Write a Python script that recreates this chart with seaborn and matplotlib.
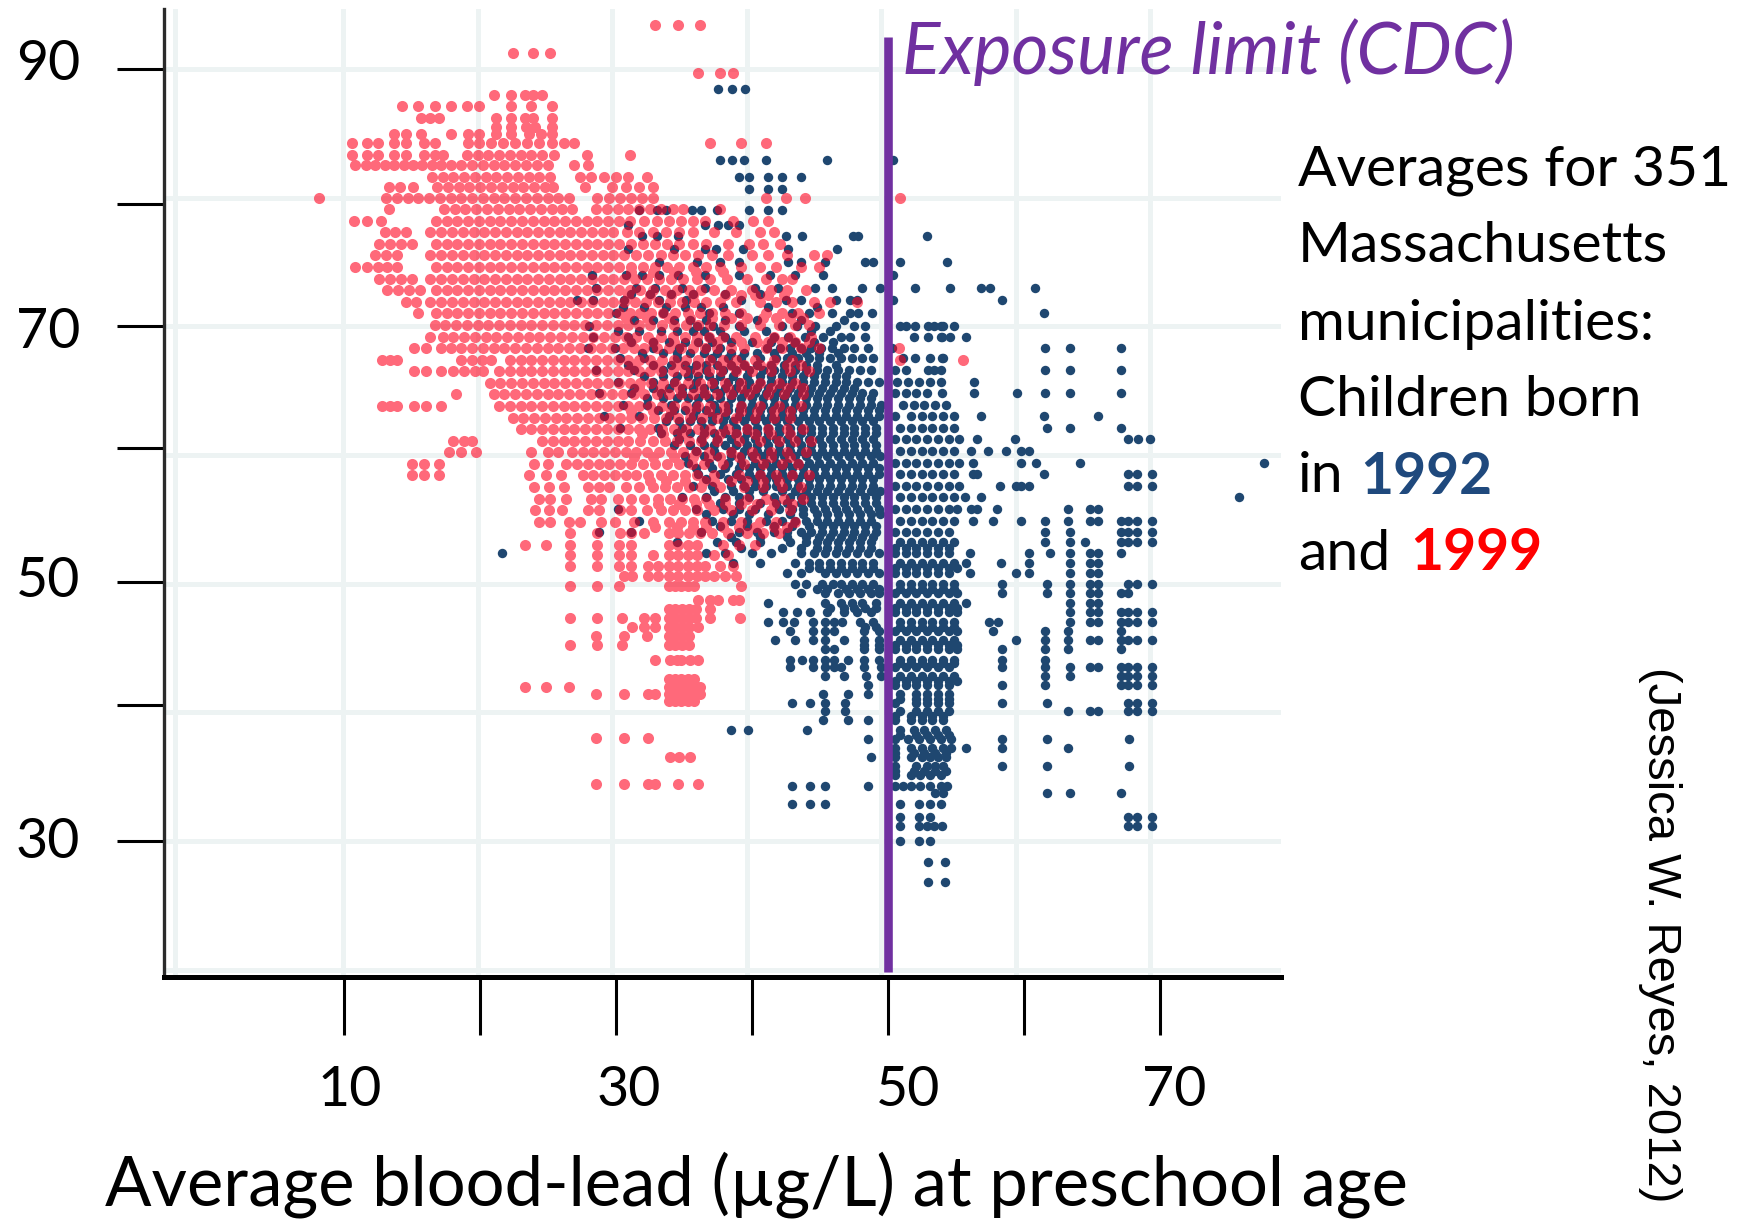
import pandas as pd
import matplotlib
matplotlib.use('Agg')
import matplotlib.pyplot as plt
import seaborn as sns

# values: one row per blood-test score level
red_y = [93.4, 91.2, 89.7, 88.0, 87.1, 86.2, 85.5, 84.9, 84.2, 83.3, 82.5, 81.6, 80.8, 80.0, 79.1, 78.2, 77.3, 76.4,
         75.5, 74.6, 73.7, 72.8, 71.9, 71.0, 70.1, 69.2, 68.3, 67.4, 66.5, 65.6, 64.7, 63.8, 62.9, 62.0, 61.1, 60.2,
         59.3, 58.4, 57.5, 56.6, 55.7, 54.8, 53.9, 53.0, 52.2, 51.4, 50.6, 49.8, 48.7, 48.0, 47.3, 46.6, 45.9, 45.2,
         44.1, 42.6, 42.0, 41.4, 40.9, 38.0, 36.5, 34.4]
red_x = [
    [33.2, 34.9, 36.5],
    [22.6, 24.1, 25.4],
    [36.4, 38.0, 39.0],
    [21.2, 22.5, 23.5, 24.1, 24.8],
    [14.4, 15.6, 16.8, 18.0, 19.2, 20.1, 22.5, 24.0, 25.5],
    [15.8, 16.5, 17.1, 21.4, 22.5, 23.5, 24.1, 25.5],
    [21.4, 22.5, 23.6, 24.3, 25.5],
    [13.8, 14.7, 15.8, 18.0, 19.3, 20.1, 21.4, 22.5, 23.8, 24.7, 25.5],
    [10.7, 11.8, 12.6, 13.8, 14.7, 16.0, 16.8, 19.3, 20.1, 21.0, 21.9, 22.8, 23.7, 24.6, 25.5, 26.4, 27.2, 37.3, 39.6, 41.4],
    [10.7, 11.8, 12.6, 13.8, 14.7, 16.0, 16.8, 17.4, 19.2, 20.0, 20.8, 21.6, 22.4, 23.2, 24.0, 24.8, 25.7, 28.1, 31.3],
    [10.9, 11.7, 12.4, 13.1, 13.8, 14.5, 15.2, 15.9, 16.6, 17.3, 18.0, 18.8, 19.6, 20.4, 21.2, 22.0, 22.8, 23.6, 24.4, 25.2, 27.2, 28.2],
    [16.6, 17.4, 18.2, 19.0, 19.8, 20.6, 21.4, 22.2, 23.0, 23.8, 24.6, 25.4, 27.6, 28.4, 29.4, 30.3, 31.2, 32.6],
    [13.4, 14.2, 15.2, 17.0, 17.8, 18.6, 19.4, 20.2, 21.0, 21.8, 22.6, 23.4, 24.2, 25.0, 25.6, 28.0, 30.0, 31.0, 32.0, 33.0],
    [8.2, 13.2, 14.0, 14.8, 15.6, 16.4, 17.2, 18.0, 18.8, 19.6, 20.4, 21.2, 22.0, 22.8, 23.6, 24.4, 25.2, 26.0, 26.8, 28.9, 29.8, 30.6, 31.4, 32.2, 33.0, 41.4, 42.9, 44.3, 51.4],
    [13.4, 17.5, 18.3, 19.1, 19.9, 20.7, 21.5, 22.3, 23.1, 23.9, 24.7, 25.5, 26.3, 27.0, 28.8, 29.6, 30.4, 31.2, 32.0, 32.8, 33.6, 34.5, 35.3, 38.0],
    [10.8, 11.8, 12.8, 16.9, 17.7, 18.5, 19.3, 20.1, 20.9, 21.7, 22.5, 23.3, 24.1, 24.9, 25.7, 26.5, 27.3, 28.1, 28.9, 29.7, 30.5, 31.3, 32.4, 33.3, 34.2, 35.1, 36.0, 36.9, 39.0, 40.5, 41.6],
    [13.1, 13.9, 14.7, 16.5, 17.3, 18.1, 18.9, 19.7, 20.5, 21.3, 22.1, 22.9, 23.7, 24.5, 25.3, 26.1, 26.9, 27.7, 28.5, 29.3, 30.1, 31.1, 32.0, 33.0, 34.0, 35.0, 36.0, 37.6, 39.2, 41.0, 42.0],
    [12.7, 13.5, 14.3, 15.1, 16.9, 17.7, 18.5, 19.3, 20.1, 20.9, 21.7, 22.5, 23.3, 24.1, 24.9, 25.7, 26.5, 27.3, 28.1, 28.9, 29.7, 30.5, 31.4, 32.3, 33.2, 34.1, 35.0, 36.0, 37.0, 38.6, 40.2, 41.2, 42.5],
    [12.4, 13.2, 14.0, 16.5, 17.3, 18.1, 18.9, 19.7, 20.5, 21.3, 22.1, 22.9, 23.7, 24.5, 25.3, 26.1, 26.9, 27.7, 28.5, 29.3, 30.1, 30.9, 31.8, 32.7, 33.6, 34.5, 35.4, 36.4, 37.4, 38.6, 40.4, 41.6, 43.0, 45.0, 46.0],
    [10.9, 11.8, 12.6, 13.3, 14.0, 16.9, 17.7, 18.5, 19.3, 20.1, 20.9, 21.7, 22.5, 23.3, 24.1, 24.9, 25.7, 26.5, 27.3, 28.1, 28.9, 29.7, 30.5, 31.4, 32.3, 33.2, 34.1, 35.0, 36.0, 37.0, 38.0, 39.6, 41.0, 42.2, 44.0, 45.4],
    [12.7, 13.5, 14.3, 15.1, 16.5, 17.3, 18.1, 18.9, 19.7, 20.5, 21.3, 22.1, 22.9, 23.7, 24.5, 25.3, 26.1, 26.9, 27.7, 28.5, 29.3, 30.1, 30.9, 31.7, 32.6, 33.5, 34.4, 35.3, 36.3, 37.3, 38.5, 40.0, 41.4, 42.6, 43.4],
    [13.3, 14.1, 14.9, 15.7, 16.9, 17.7, 18.5, 19.3, 20.1, 20.9, 21.7, 22.5, 23.3, 24.1, 24.9, 25.7, 26.5, 27.3, 28.1, 28.9, 29.7, 30.5, 31.3, 32.1, 33.0, 33.9, 34.8, 35.7, 36.6, 37.6, 38.8, 40.4, 41.8, 43.0, 44.4],
    [14.7, 15.4, 16.5, 17.3, 18.1, 18.9, 19.7, 20.5, 21.3, 22.1, 22.9, 23.7, 24.5, 25.3, 26.1, 26.9, 27.7, 28.5, 29.3, 30.1, 30.9, 31.7, 32.5, 33.4, 34.3, 35.2, 36.1, 37.0, 38.0, 39.2, 41.0, 42.2, 43.4, 45.0, 46.2, 48.2],
    [15.6, 16.9, 17.7, 18.5, 19.3, 20.1, 20.9, 21.7, 22.5, 23.3, 24.1, 24.9, 25.7, 26.5, 27.3, 28.1, 28.9, 29.7, 30.5, 31.3, 32.1, 32.9, 33.8, 34.7, 35.6, 36.5, 37.4, 38.4, 39.6, 41.4, 42.6, 43.8, 45.4],
    [16.8, 17.6, 18.4, 19.2, 20.0, 20.8, 21.6, 22.4, 23.2, 24.0, 24.8, 25.6, 26.4, 27.2, 28.0, 28.8, 29.6, 30.4, 31.2, 32.0, 32.8, 33.7, 34.6, 35.5, 36.4, 37.3, 38.3, 39.6, 41.0, 42.4, 43.6, 44.6],
    [16.5, 17.4, 18.2, 19.0, 19.8, 20.6, 21.4, 22.2, 23.0, 23.8, 24.6, 25.4, 26.2, 27.0, 27.8, 28.6, 29.4, 30.2, 31.0, 31.8, 32.7, 33.6, 34.5, 35.4, 36.3, 37.2, 38.2, 39.2, 40.6, 42.0, 43.2, 44.8],
    [15.3, 16.2, 17.3, 18.0, 18.8, 19.6, 20.4, 21.2, 22.0, 22.8, 23.6, 24.4, 25.2, 26.0, 26.8, 27.6, 28.4, 29.2, 30.0, 30.8, 31.6, 32.4, 33.3, 34.2, 35.1, 36.0, 36.9, 37.8, 38.8, 39.8, 41.4, 42.6, 44.0, 45.4, 51.3],
    [12.9, 13.5, 14.0, 18.8, 19.6, 20.3, 21.0, 22.4, 23.2, 24.0, 24.8, 25.6, 26.4, 27.2, 28.0, 28.8, 29.6, 30.4, 31.2, 32.0, 32.8, 33.7, 34.6, 35.5, 36.4, 37.3, 38.2, 39.2, 40.6, 42.0, 43.4, 51.4, 56.1],
    [15.3, 16.2, 17.3, 18.2, 19.0, 19.8, 20.4, 21.6, 22.4, 23.2, 24.0, 24.8, 25.6, 26.4, 27.2, 28.0, 28.8, 29.6, 30.4, 31.2, 32.0, 32.8, 33.6, 34.5, 35.4, 36.3, 37.2, 38.1, 39.2, 40.4, 41.8, 43.2, 44.6],
    [20.9, 21.7, 22.5, 23.3, 24.1, 24.9, 25.7, 26.5, 27.3, 28.1, 28.9, 29.7, 30.5, 31.3, 32.1, 32.9, 33.8, 34.7, 35.6, 36.5, 37.4, 38.4, 39.6, 41.0, 42.4, 43.6],
    [18.4, 21.2, 22.0, 22.8, 23.6, 24.4, 25.2, 26.0, 26.8, 27.6, 28.4, 29.2, 30.0, 30.8, 31.6, 32.4, 33.3, 34.2, 35.1, 36.0, 36.9, 37.8, 38.8, 40.2, 41.6, 42.8, 44.2],
    [12.9, 13.5, 14.0, 15.3, 16.2, 17.3, 21.6, 22.4, 23.2, 24.0, 24.8, 25.6, 26.4, 27.2, 28.0, 28.8, 29.6, 30.4, 31.2, 32.0, 32.8, 33.7, 34.6, 35.5, 36.4, 37.3, 38.3, 39.6, 41.0, 42.4, 44.0],
    [22.6, 23.4, 24.2, 25.0, 25.8, 26.6, 27.4, 28.2, 29.0, 29.8, 30.6, 31.4, 32.2, 33.1, 34.0, 34.9, 35.8, 36.7, 37.8, 39.2, 40.6, 42.0, 43.2],
    [23.2, 24.0, 24.8, 25.6, 26.4, 27.2, 28.0, 28.8, 29.6, 30.4, 31.2, 32.0, 32.8, 33.7, 34.6, 35.5, 36.4, 37.3, 38.6, 40.0, 41.6, 43.0, 44.2],
    [18.2, 19.0, 19.6, 24.8, 25.6, 26.4, 27.2, 28.0, 28.8, 29.6, 30.4, 31.2, 32.1, 33.0, 33.9, 34.8, 35.7, 36.6, 37.8, 39.4, 41.0, 42.4, 43.6, 44.8],
    [17.9, 18.8, 19.9, 24.0, 25.2, 26.0, 27.0, 27.8, 28.6, 29.4, 30.2, 31.0, 31.8, 32.6, 33.5, 34.4, 35.3, 36.2, 37.2, 38.8, 40.4, 41.8, 43.0, 44.4],
    [15.1, 16.0, 17.1, 24.2, 25.2, 26.6, 27.4, 28.2, 29.0, 29.8, 30.6, 31.4, 32.3, 33.2, 34.1, 35.0, 35.9, 36.8, 38.2, 39.8, 41.2, 42.6, 43.8],
    [15.1, 16.0, 17.1, 23.8, 25.1, 26.2, 27.8, 28.6, 29.4, 30.2, 31.0, 31.8, 32.7, 33.6, 34.5, 35.4, 36.3, 37.6, 39.4, 41.0, 42.2, 43.4, 44.6],
    [24.2, 25.3, 26.4, 28.2, 29.0, 29.8, 31.0, 32.0, 33.0, 33.9, 34.8, 35.7, 36.6, 38.0, 39.8, 41.2, 42.6, 44.0],
    [24.6, 25.4, 26.6, 28.4, 29.2, 30.4, 31.4, 32.4, 33.4, 34.3, 35.2, 36.1, 37.0, 38.4, 40.0, 41.4, 42.8, 44.2],
    [24.3, 25.3, 26.3, 28.2, 29.0, 30.6, 31.4, 32.6, 33.6, 34.5, 35.4, 36.3, 37.6, 38.8, 40.4, 41.8, 43.2],
    [24.6, 25.4, 26.8, 27.6, 29.2, 30.2, 31.6, 33.0, 34.2, 35.1, 36.0, 36.9, 38.2, 39.6, 41.0, 42.2, 43.6],
    [26.9, 28.9, 30.6, 31.4, 32.4, 34.2, 34.9, 35.7, 36.5, 37.4, 38.6, 40.0, 41.2, 42.4],
    [23.5, 25.1, 26.9, 28.9, 30.5, 31.4, 34.2, 34.9, 35.6, 36.3, 38.2, 39.4, 40.6],
    [26.9, 28.9, 30.5, 31.4, 33.0, 34.2, 34.9, 35.6, 36.3, 37.6, 38.6],
    [26.9, 28.9, 30.5, 31.4, 32.7, 33.4, 34.2, 34.9, 35.6, 36.3, 36.9, 38.0, 39.0],
    [30.9, 31.5, 32.7, 33.4, 34.2, 34.9, 35.6, 36.3, 36.9, 37.6, 38.4, 39.2],
    [26.9, 28.9, 30.5, 34.2, 34.7, 35.1, 35.6, 36.1, 39.6],
    [36.4, 37.3, 37.9, 39.0, 39.4],
    [34.2, 34.7, 35.2, 35.7, 36.2, 37.3],
    [26.9, 28.9, 30.7, 32.4, 33.2, 34.2, 34.7, 35.2, 35.7, 36.2, 37.3, 39.5],
    [31.5, 32.4, 33.2, 34.2, 34.7, 35.2, 35.7, 36.4],
    [28.8, 30.9, 32.6, 34.2, 34.7, 35.2, 35.7],
    [26.9, 28.9, 30.7, 34.2, 34.7, 35.2, 35.7],
    [33.2, 34.3, 34.8, 35.1, 35.8, 36.4],
    [34.2, 34.7, 35.1, 35.6, 36.1],
    [23.5, 25.1, 26.8, 34.2, 34.7, 35.1, 35.6, 36.1, 36.5],
    [28.8, 30.9, 32.7, 33.2, 34.2, 34.7, 35.1, 35.6, 36.1, 36.5],
    [34.2, 34.7, 35.1, 35.6, 36.1],
    [28.8, 30.9, 32.7],
    [34.3, 35.0, 35.8],
    [28.8, 30.9, 32.7, 33.2, 34.9, 36.4],
]

# second pass of 1999 rows, the overlap area where red is nearly solid
red_dense_y = [74.2, 72.4, 70.6, 68.8, 67.0, 65.2, 63.4, 61.6, 59.8, 58.0, 56.2, 54.4]
red_dense_x = [
    [31.4, 33.0, 34.6, 36.2, 38.2],
    [31.2, 32.8, 34.4, 36.0, 38.4, 39.6, 40.6, 41.6, 42.8],
    [31.0, 32.6, 34.2, 35.8, 37.4, 38.8, 40.0, 41.2, 42.2, 43.2, 44.2],
    [31.4, 33.0, 34.6, 36.2, 37.8, 39.6, 40.8, 41.6, 42.6, 43.6, 44.6],
    [31.6, 33.2, 34.8, 36.4, 38.0, 38.8, 39.8, 41.0, 41.8, 43.0, 44.0],
    [32.0, 33.6, 35.0, 36.6, 38.6, 39.6, 40.6, 41.8, 43.0, 44.2],
    [31.4, 33.0, 34.4, 35.8, 37.2, 38.4, 39.6, 40.8, 42.0, 43.2],
    [32.2, 33.8, 35.2, 36.8, 38.0, 39.2, 40.6, 41.8, 43.2],
    [31.6, 33.0, 34.6, 36.0, 37.2, 38.0, 39.4, 40.6, 41.8, 43.2],
    [32.8, 34.0, 35.4, 36.8, 37.6, 38.8, 40.0, 41.2, 42.4],
    [33.4, 35.0, 36.2, 37.2, 38.4, 39.6, 40.8, 42.0, 43.4],
    [33.2, 34.8, 36.0, 37.0, 38.2, 39.4, 40.6, 42.0, 43.0],
]

blue_y = [88.4, 82.9, 81.6, 80.7, 79.0, 77.9, 77.0, 76.0, 75.0, 74.0, 73.0, 72.0, 71.0, 70.0, 69.2, 68.3, 67.5, 66.6, 65.7,
          64.8, 63.9, 63.0, 62.1, 61.2, 60.3, 59.4, 58.5, 57.6, 56.7, 55.8, 54.9, 54.0, 53.2, 52.4, 51.6, 50.8, 50.0, 49.3,
          48.5, 47.8, 47.0, 46.3, 45.6, 44.9, 44.1, 43.5, 42.8, 42.1, 41.4, 40.7, 40.1, 39.4, 38.6, 37.9, 37.2, 36.5, 35.8,
          35.1, 34.3, 33.7, 32.9, 31.9, 31.2, 30.0, 28.4, 26.8]
blue_x = [
    [37.9, 38.9, 39.9],
    [38.0, 38.9, 39.8, 41.4, 46.0, 50.9],
    [39.4, 40.2, 41.6, 42.6, 44.0],
    [40.2, 41.6, 42.6],
    [32.0, 33.3, 34.0, 35.9, 36.6, 37.8, 40.2, 41.6, 42.6],
    [31.2, 36.9, 37.9, 38.6, 39.4],
    [32.2, 33.3, 34.9, 42.9, 44.1, 47.9, 48.3, 53.4],
    [31.2, 34.6, 36.9, 37.7, 39.7, 43.1, 46.7],
    [33.5, 36.3, 38.0, 39.4, 43.1, 44.0, 45.8, 48.8, 49.4, 51.4, 54.9],
    [28.5, 31.0, 32.2, 33.5, 34.9, 36.9, 39.4, 41.7, 43.6, 45.7, 50.9],
    [28.8, 31.8, 33.2, 35.2, 36.9, 40.6, 42.3, 45.1, 46.3, 48.6, 49.9, 52.5, 55.1, 57.4, 58.1, 61.4],
    [27.4, 28.6, 30.9, 33.5, 35.5, 39.6, 42.9, 44.0, 46.6, 47.7, 48.2, 50.9, 59.0],
    [30.3, 33.8, 37.2, 39.4, 43.4, 44.6, 46.3, 47.7, 48.3, 49.3, 62.1],
    [28.3, 36.3, 37.5, 39.4, 42.6, 43.7, 45.1, 46.6, 48.0, 48.8, 51.4, 51.8, 52.5, 53.5, 53.9, 54.4, 54.6, 55.4],
    [28.6, 31.2, 37.2, 38.4, 42.0, 43.1, 44.3, 45.7, 47.0, 47.7, 48.8, 52.4, 53.5, 54.4, 54.5, 55.1, 56.3],
    [28.2, 30.2, 33.0, 35.0, 37.0, 38.0, 41.5, 42.5, 43.2, 44.0, 44.8, 45.5, 46.3, 47.2, 48.0, 49.0, 50.8, 62.2, 64.0, 67.8],
    [30.6, 32.4, 34.8, 37.4, 38.6, 39.6, 41.0, 42.2, 43.0, 43.8, 44.6, 45.4, 46.2, 47.0, 47.8, 48.6, 49.4, 51.6, 52.5, 53.6, 54.5, 54.6],
    [28.8, 31.6, 33.8, 35.8, 37.0, 38.2, 39.2, 40.2, 41.2, 42.0, 42.8, 43.6, 44.4, 45.2, 46.0, 46.8, 47.6, 48.4, 49.2, 51.0, 51.8, 53.5, 53.9, 54.4, 62.2, 64.0, 67.8],
    [30.4, 33.0, 34.6, 36.2, 37.6, 38.6, 39.4, 40.2, 41.0, 41.8, 42.6, 43.4, 44.2, 45.0, 45.8, 46.6, 47.4, 48.2, 49.0, 49.8, 51.2, 52.0, 52.8, 53.6, 54.4, 56.9],
    [29.0, 31.4, 33.6, 35.2, 36.8, 38.0, 39.0, 39.8, 40.6, 41.4, 42.2, 43.0, 43.8, 44.6, 45.4, 46.2, 47.0, 47.8, 48.6, 49.4, 51.0, 51.8, 52.6, 53.4, 54.5, 56.9, 60.1, 62.2, 64.0, 67.8],
    [30.8, 32.6, 34.4, 36.2, 37.6, 38.6, 39.6, 40.4, 41.2, 42.0, 42.8, 43.6, 44.4, 45.2, 46.0, 46.8, 47.6, 48.4, 49.2, 50.0, 51.6, 52.4, 53.2, 54.0, 54.8],
    [29.4, 32.0, 34.2, 36.0, 37.4, 38.4, 39.4, 40.2, 41.0, 41.8, 42.6, 43.4, 44.2, 45.0, 45.8, 46.6, 47.4, 48.2, 49.0, 49.8, 51.0, 52.2, 53.0, 53.8, 54.6, 55.4, 57.4, 62.1, 66.1],
    [30.6, 33.4, 35.2, 36.8, 38.2, 39.2, 40.0, 40.8, 41.6, 42.4, 43.2, 44.0, 44.8, 45.6, 46.4, 47.2, 48.0, 48.8, 49.6, 51.4, 52.2, 53.0, 53.8, 54.6, 55.4, 62.3, 64.0, 67.8],
    [35.0, 36.6, 37.8, 38.8, 39.8, 40.6, 41.4, 42.2, 43.0, 43.8, 44.6, 45.4, 46.2, 47.0, 47.8, 48.6, 49.4, 51.0, 51.8, 52.6, 53.4, 54.2, 55.0, 55.8, 57.1, 59.9, 68.3, 69.1, 70.0],
    [36.2, 37.6, 38.8, 39.8, 40.8, 41.6, 42.4, 43.2, 44.0, 44.8, 45.6, 46.4, 47.2, 48.0, 48.8, 49.6, 51.4, 52.2, 53.0, 53.8, 54.6, 55.4, 56.7, 57.9, 59.3, 60.4, 61.0],
    [35.6, 37.2, 38.6, 39.6, 40.6, 41.4, 42.2, 43.0, 43.8, 44.6, 45.4, 46.2, 47.0, 47.8, 48.6, 49.4, 51.0, 51.8, 52.6, 53.4, 54.2, 55.0, 55.8, 56.8, 60.4, 61.5, 64.8, 78.4],
    [36.4, 38.0, 39.2, 40.2, 41.0, 41.8, 42.6, 43.4, 44.2, 45.0, 45.8, 46.6, 47.4, 48.2, 49.0, 49.8, 51.4, 52.2, 53.0, 53.8, 54.6, 55.4, 56.8, 57.1, 62.1, 68.3, 69.0, 70.1],
    [36.0, 37.4, 38.8, 39.8, 40.6, 41.4, 42.2, 43.0, 43.8, 44.6, 45.4, 46.2, 47.0, 47.8, 48.6, 49.4, 51.0, 51.8, 52.6, 53.4, 54.2, 55.0, 55.8, 58.8, 60.0, 60.4, 61.0, 68.3, 69.0, 70.1],
    [35.2, 37.0, 38.4, 39.4, 40.2, 42.0, 43.2, 44.0, 44.8, 45.6, 46.4, 47.2, 48.0, 48.8, 49.6, 51.4, 52.2, 53.0, 53.8, 54.6, 55.4, 56.2, 57.4, 76.6],
    [30.4, 36.2, 38.2, 39.4, 40.6, 42.4, 43.4, 44.2, 45.0, 45.8, 46.6, 47.4, 48.2, 49.0, 49.8, 51.0, 51.8, 52.6, 53.4, 54.2, 55.0, 55.6, 56.7, 57.1, 58.6, 63.9, 65.5, 66.1],
    [32.0, 37.4, 38.8, 40.0, 41.4, 42.6, 43.6, 44.4, 45.2, 46.0, 46.8, 47.6, 48.4, 49.2, 51.4, 52.2, 53.0, 53.8, 54.6, 55.4, 56.8, 58.3, 60.4, 62.2, 63.9, 65.5, 66.1, 67.8, 68.3, 69.0, 70.1],
    [29.0, 31.4, 36.6, 39.4, 40.8, 42.0, 43.0, 44.0, 44.8, 45.6, 46.4, 47.2, 48.0, 48.8, 49.6, 51.0, 51.8, 52.6, 53.4, 54.2, 55.0, 62.2, 64.0, 67.8, 68.3, 69.0, 70.1],
    [34.8, 37.8, 39.2, 41.0, 43.2, 44.4, 45.2, 46.0, 46.8, 47.6, 48.4, 49.2, 51.4, 52.2, 53.0, 53.8, 54.6, 55.4, 62.2, 64.0, 65.1, 67.8, 68.3, 69.0, 70.1],
    [21.8, 37.0, 38.4, 40.4, 41.8, 44.0, 45.0, 45.8, 46.6, 47.4, 48.2, 49.0, 49.8, 51.0, 51.8, 52.6, 53.4, 54.2, 55.0, 56.6, 61.0, 62.5, 64.0, 65.5, 66.1, 67.8],
    [39.0, 41.0, 43.6, 44.6, 45.4, 46.2, 47.0, 47.8, 48.6, 49.4, 51.4, 52.2, 53.0, 53.8, 54.6, 55.4, 56.3, 58.9, 61.0, 64.0, 65.5, 66.1],
    [43.0, 44.0, 45.8, 46.6, 47.4, 48.2, 49.0, 49.8, 51.0, 51.8, 52.6, 53.4, 54.2, 55.0, 56.6, 60.0, 61.0, 64.0, 65.5, 66.1],
    [43.6, 44.4, 45.6, 46.4, 47.0, 47.8, 48.6, 49.4, 51.4, 52.2, 53.0, 53.8, 54.6, 55.4, 59.0, 62.3, 64.0, 65.5, 66.1, 68.3, 69.0, 70.1],
    [44.0, 45.8, 46.8, 47.6, 48.4, 49.2, 49.8, 51.0, 51.8, 52.6, 53.4, 54.2, 55.0, 55.6, 59.0, 62.3, 64.0, 65.5, 66.1, 67.8, 68.3],
    [41.6, 45.8, 47.0, 47.8, 48.6, 49.6, 51.4, 52.2, 53.0, 53.8, 54.6, 55.4, 56.3, 64.0, 65.5, 66.1],
    [42.7, 43.7, 44.7, 46.0, 47.2, 48.2, 49.2, 51.0, 51.8, 52.6, 53.4, 54.2, 55.0, 55.6, 64.0, 65.5, 66.1, 67.8, 68.3, 69.0, 70.1],
    [41.6, 42.7, 43.5, 44.9, 45.8, 46.5, 47.1, 48.4, 49.4, 51.4, 52.2, 53.0, 53.8, 54.6, 55.4, 58.0, 58.7, 64.0, 65.5, 66.1, 67.8, 68.3, 69.0, 70.1],
    [43.2, 44.9, 45.8, 46.5, 48.7, 49.8, 51.0, 51.8, 52.6, 53.4, 54.2, 55.0, 55.6, 58.3, 62.2, 63.9, 67.8],
    [42.1, 43.6, 44.9, 45.8, 47.2, 48.7, 49.8, 51.4, 52.2, 53.0, 53.8, 54.6, 55.4, 60.0, 62.2, 63.9, 65.5, 66.1, 67.8, 68.3, 69.0, 70.1],
    [45.8, 46.5, 48.7, 49.8, 51.0, 51.8, 52.6, 53.4, 54.2, 55.0, 55.6, 59.0, 62.2, 63.9, 67.8],
    [43.2, 44.1, 44.9, 45.8, 46.5, 47.5, 48.7, 49.8, 51.4, 52.2, 53.0, 53.8, 54.6, 55.4, 59.0, 62.2],
    [43.2, 44.9, 45.8, 46.5, 47.0, 48.7, 50.0, 51.0, 51.8, 52.6, 53.4, 54.2, 55.0, 59.0, 62.2, 64.0, 65.5, 66.1, 67.8, 68.3, 69.0, 70.1],
    [45.8, 47.2, 48.9, 50.0, 51.4, 52.2, 53.0, 53.8, 54.6, 55.4, 62.2, 64.0, 67.8, 68.3, 69.0, 70.1],
    [49.0, 51.0, 51.8, 52.6, 53.4, 54.2, 55.0, 59.0, 62.2, 67.8, 68.3, 69.0, 70.1],
    [45.7, 47.5, 49.0, 51.4, 52.6, 53.4, 54.2, 55.0],
    [43.4, 44.7, 45.8, 47.3, 51.0, 52.6, 53.4, 54.2, 55.0, 59.0, 62.3, 68.3, 69.0, 70.1],
    [45.8, 47.3, 51.4, 52.6, 53.4, 54.2, 55.0, 63.9, 65.5, 66.1, 68.3, 69.0, 70.1],
    [45.7, 47.5, 49.0, 51.0, 52.2, 53.0, 53.8, 54.6],
    [38.8, 40.1, 44.5, 51.4, 52.4, 53.2, 54.0, 54.8],
    [49.0, 51.0, 52.0, 52.8, 53.6, 54.4, 55.2, 59.0, 62.3, 68.4],
    [51.0, 52.2, 53.0, 53.8, 54.6, 55.2, 56.3, 59.0, 63.9],
    [49.2, 51.0, 52.2, 53.0, 53.6, 54.2, 54.8],
    [51.0, 52.6, 53.4, 54.0, 54.6, 59.0, 62.3, 68.4],
    [51.0, 52.2, 52.9, 53.6, 54.4],
    [43.4, 44.7, 45.8, 49.0, 51.0, 51.6, 52.2, 52.9, 53.6, 54.4, 54.9],
    [54.0, 54.6, 62.3, 64.0, 67.8],
    [43.4, 44.7, 45.8, 51.4, 52.8, 53.6, 54.4],
    [51.4, 52.8, 53.6, 68.3, 69.0, 70.1],
    [51.4, 52.8, 53.4, 53.9, 54.5, 68.3, 69.0, 70.1],
    [51.4, 52.8, 53.6],
    [53.5, 54.7],
    [53.5, 54.7],
]

# second pass of 1992 rows: the dark red overlap and the dense blue blocks
blue_dense_y = [72.5, 71.5, 70.5, 69.6, 68.8, 67.9, 67.0, 66.1, 65.2, 64.4, 63.5, 62.6, 61.7, 60.8, 59.9, 59.0, 58.1, 57.2,
                56.3, 55.4, 54.5, 53.6, 52.8, 51.2, 49.6, 48.1, 46.6, 45.2, 43.8, 42.4, 41.0, 39.7, 38.2, 36.8, 35.4]
blue_dense_x = [
    [31.4, 32.8, 34.4, 36.0, 38.4, 41.0],
    [30.8, 32.4, 34.0, 35.4, 36.6, 38.2, 41.6, 45.2],
    [31.6, 33.0, 34.6, 35.8, 37.0, 38.4, 40.8, 44.0, 47.2],
    [30.4, 32.0, 33.6, 34.8, 36.0, 36.8, 38.0, 39.8, 41.4, 44.8, 46.2],
    [31.4, 33.0, 34.2, 35.4, 36.4, 37.4, 38.8, 40.4, 41.8, 43.6, 45.0, 46.4],
    [32.2, 33.8, 34.8, 35.8, 36.8, 37.8, 38.8, 39.8, 40.8, 42.0, 43.4, 44.4, 45.4, 46.8],
    [31.2, 33.0, 34.4, 35.4, 36.2, 37.0, 37.8, 38.8, 39.8, 40.8, 41.8, 42.8, 43.6, 44.4, 45.2, 46.6],
    [32.4, 33.8, 34.8, 35.6, 36.4, 37.2, 38.0, 39.0, 40.0, 41.0, 41.8, 42.6, 43.4, 44.2, 45.0, 45.8, 46.6, 47.4],
    [31.6, 33.0, 34.2, 35.2, 36.0, 36.8, 37.6, 38.4, 39.2, 40.0, 40.8, 41.6, 42.4, 43.2, 44.0, 44.8, 45.6, 46.4, 47.2, 48.0],
    [32.6, 33.8, 34.8, 35.6, 36.4, 37.2, 38.0, 38.8, 39.6, 40.4, 41.2, 42.0, 42.8, 43.6, 44.4, 45.2, 46.0, 46.8, 47.6, 48.4, 49.2],
    [33.4, 34.6, 35.4, 36.2, 37.0, 37.8, 38.6, 39.4, 40.2, 41.0, 41.8, 42.6, 43.4, 44.2, 45.0, 45.8, 46.6, 47.4, 48.2, 49.0, 49.8],
    [34.0, 35.0, 35.8, 36.6, 37.4, 38.2, 39.0, 39.8, 40.6, 41.4, 42.2, 43.0, 43.8, 44.6, 45.4, 46.2, 47.0, 47.8, 48.6, 49.4],
    [33.6, 34.8, 35.8, 36.8, 37.6, 38.4, 39.2, 40.0, 40.8, 41.6, 42.4, 43.2, 44.0, 44.8, 45.6, 46.4, 47.2, 48.0, 48.8, 49.6],
    [34.6, 35.8, 36.8, 37.6, 38.4, 39.2, 40.0, 40.8, 41.6, 42.4, 43.2, 44.0, 44.8, 45.6, 46.4, 47.2, 48.0, 48.8, 49.6],
    [35.4, 36.8, 37.8, 38.8, 39.6, 40.4, 41.2, 42.0, 42.8, 43.6, 44.4, 45.2, 46.0, 46.8, 47.6, 48.4, 49.2, 49.9],
    [36.2, 37.4, 38.4, 39.4, 40.2, 41.0, 41.8, 42.6, 43.4, 44.2, 45.0, 45.8, 46.6, 47.4, 48.2, 49.0, 49.8],
    [37.0, 38.6, 39.6, 40.6, 41.4, 42.2, 43.0, 43.8, 44.6, 45.4, 46.2, 47.0, 47.8, 48.6, 49.4],
    [37.6, 39.0, 40.2, 41.2, 42.6, 43.6, 44.4, 45.2, 46.0, 46.8, 47.6, 48.4, 49.2, 49.9],
    [38.0, 39.4, 41.0, 42.2, 43.0, 44.0, 44.8, 45.6, 46.4, 47.2, 48.0, 48.8, 49.6],
    [37.0, 39.0, 40.2, 41.6, 43.2, 44.2, 45.2, 46.0, 46.8, 47.6, 48.4, 49.2, 49.9],
    [38.0, 40.0, 42.0, 43.4, 44.6, 45.6, 46.4, 47.2, 48.0, 48.8, 49.6],
    [38.8, 41.0, 43.0, 44.4, 45.4, 46.2, 47.0, 47.8, 48.6, 49.4],
    [39.6, 42.6, 44.0, 45.2, 46.0, 46.8, 47.6, 48.4, 49.2, 51.0, 51.8, 52.6, 53.4, 54.2, 55.0],
    [44.6, 45.4, 46.2, 47.0, 47.8, 48.6, 49.4, 51.0, 51.8, 52.6, 53.4, 54.2, 55.0, 55.6],
    [45.2, 46.0, 47.4, 48.2, 49.0, 49.8, 51.4, 52.2, 53.0, 53.8, 54.6, 55.4],
    [46.2, 47.2, 48.0, 48.8, 49.6, 51.0, 51.8, 52.6, 53.4, 54.2, 55.0, 55.6],
    [48.8, 49.6, 51.4, 52.2, 53.0, 53.8, 54.6, 55.4],
    [48.7, 49.8, 51.0, 51.8, 52.6, 53.4, 54.2, 55.0, 55.6],
    [51.4, 52.2, 53.0, 53.8, 54.6, 55.4],
    [51.0, 51.8, 52.6, 53.4, 54.2, 55.0, 55.6],
    [51.4, 52.6, 53.4, 54.2, 55.0],
    [51.0, 52.2, 53.0, 53.8, 54.6],
    [51.4, 52.6, 53.4, 54.2, 55.0],
    [51.0, 52.4, 53.2, 54.0, 54.8],
    [51.0, 52.4, 53.2, 54.0, 54.8],
]

grid_x = [-2.5, 10, 20, 30, 40, 50, 60, 70]
grid_y = [20, 30, 40, 50, 60, 70, 80, 90]
tick_x = [10.07, 20.2, 30.3, 40.4, 50.5, 60.6, 70.7]
tick_y = [90, 79.5, 70, 60.5, 50.1, 40.6, 30]
limit_x = 50.5

RED_ALPHA = 0.77


def flat_alpha(image, dpi):
    # red layer is one flat sheet, red on red does not get darker
    image[..., 3] *= RED_ALPHA
    return image, 0, 0


def rows_to_df(ys, xs):
    return pd.DataFrame([{'lead': x, 'score': y} for y, row in zip(ys, xs) for x in row])


def px_text(fig, x, y, s, **kw):
    kw.setdefault('ha', 'left')
    kw.setdefault('va', 'center')
    kw.setdefault('color', 'black')
    fig.text(x / 1750, 1 - y / 1219, s, **kw)


sns.set_theme(style='white')
plt.rcParams['font.family'] = ['Lato', 'DejaVu Sans']

fig = plt.figure(figsize=(17.5, 12.19), dpi=100)
ax = fig.add_axes([164 / 1750, 1 - 977 / 1219, (1281 - 164) / 1750, (977 - 9) / 1219])

for g in grid_x:
    ax.axvline(g, color='#edf3f3', lw=3.6, zorder=0)
for g in grid_y:
    ax.axhline(g, color='#edf3f3', lw=3.6, zorder=0)

blue = pd.concat([rows_to_df(blue_y, blue_x), rows_to_df(blue_dense_y, blue_dense_x)])
red = pd.concat([rows_to_df(red_y, red_x), rows_to_df(red_dense_y, red_dense_x)])
sns.scatterplot(data=blue, x='lead', y='score', color='#1f4770', s=46, linewidth=0, ax=ax, zorder=2)
sns.scatterplot(data=red, x='lead', y='score', color='#ff001e', s=64, linewidth=0, ax=ax, zorder=3)
ax.collections[-1].set_agg_filter(flat_alpha)

ax.vlines(limit_x, 19.8, 92.5, color='#7030a0', lw=6.2, zorder=4)

ax.set_xlim(-3.3, 79.7)
ax.set_ylim(19.43, 94.65)
ax.set_xlabel('')
ax.set_ylabel('')
ax.set_xticks(tick_x)
ax.set_yticks(tick_y)
ax.set_xticklabels([])
ax.set_yticklabels([])
ax.tick_params(axis='x', length=42, width=2.2, color='black', bottom=True)
ax.tick_params(axis='y', length=34, width=2.2, color='black', left=True)
ax.spines['top'].set_visible(False)
ax.spines['right'].set_visible(False)
ax.spines['bottom'].set_linewidth(3.6)
ax.spines['bottom'].set_color('black')
ax.spines['left'].set_linewidth(2.4)
ax.spines['left'].set_color('#2b2b2b')

big = 40
for s, x in zip(['10', '30', '50', '70'], [350, 629, 908, 1174]):
    px_text(fig, x, 1090, s, fontsize=big, ha='center')
for s, y in zip(['90', '70', '50', '30'], [65, 333, 581, 842]):
    px_text(fig, 80, y, s, fontsize=big, ha='right')
px_text(fig, 756, 1185, 'Average blood-lead (µg/L) at preschool age', fontsize=49.5, ha='center')

px_text(fig, 902, 52, 'Exposure limit (CDC)', fontsize=51.5, style='italic', color='#7030a0')

note = 41
px_text(fig, 1298, 170, 'Averages for 351', fontsize=note)
px_text(fig, 1298, 247, 'Massachusetts', fontsize=note)
px_text(fig, 1298, 324, 'municipalities:', fontsize=note)
px_text(fig, 1298, 400, 'Children born', fontsize=note)
px_text(fig, 1298, 477, 'in', fontsize=note)
px_text(fig, 1360, 477, '1992', fontsize=note, fontweight='bold', color='#1f497d')
px_text(fig, 1298, 554, 'and', fontsize=note)
px_text(fig, 1410, 554, '1999', fontsize=note, fontweight='bold', color='#ff0000')

px_text(fig, 1660, 935, '(Jessica W. Reyes, 2012)', fontsize=34, rotation=270, ha='center',
        family=['Liberation Sans', 'DejaVu Sans'])

fig.savefig('out.png', dpi=100)
